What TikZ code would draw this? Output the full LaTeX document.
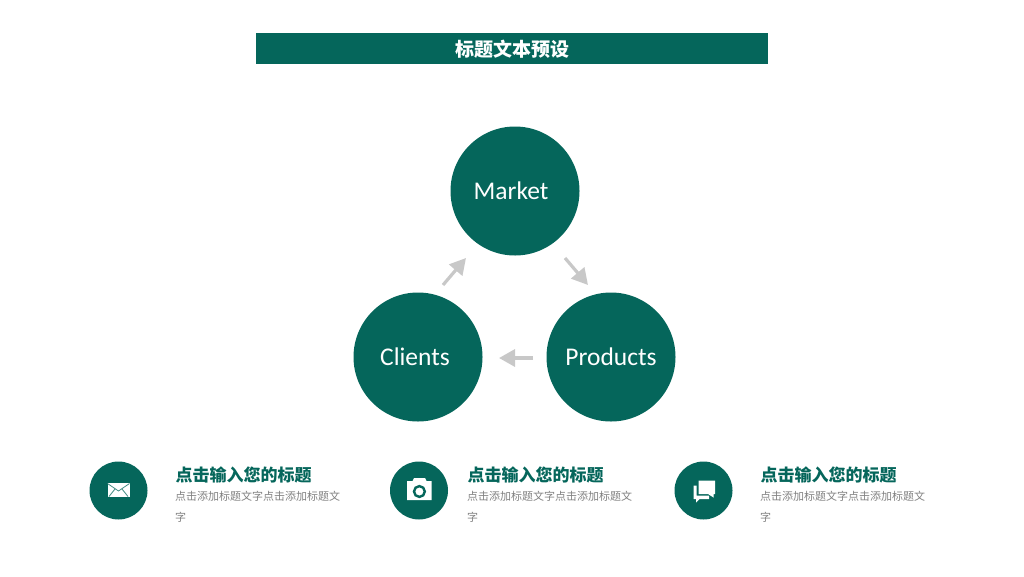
\documentclass[tikz,border=0pt]{standalone}
\usepackage{fontspec}
\setmainfont{Carlito}
\newfontfamily\cjk{Noto Sans CJK SC}
\usetikzlibrary{arrows.meta}
\definecolor{teal}{HTML}{05665B}
\definecolor{arrowgray}{HTML}{C8C8C8}
\definecolor{bodygray}{HTML}{808080}
\tikzset{
  bigcircle/.style={circle,fill=teal,minimum size=129pt,inner sep=0pt,text=white,font=\fontsize{25.5pt}{30pt}\selectfont},
  iconcircle/.style={circle,fill=teal,minimum size=58pt,inner sep=0pt},
  flow/.style={draw=arrowgray,line width=3.2pt,-{Triangle[length=16pt,width=17pt]}},
  headline/.style={anchor=west,inner sep=0pt,text=teal,font=\cjk\bfseries\fontsize{17pt}{20pt}\selectfont},
  blurb/.style={anchor=west,inner sep=0pt,text=bodygray,font=\cjk\fontsize{11pt}{13pt}\selectfont},
}
\begin{document}
\begin{tikzpicture}[x=1pt,y=-1pt]
      \useasboundingbox (0,0) rectangle (1024,576);
      \fill[teal] (256,33) rectangle (767.5,63.5);
      \node[inner sep=0pt,text=white,font=\cjk\bfseries\fontsize{19pt}{22pt}\selectfont] (title) at (512,49.5) {标题文本预设};
      \node[bigcircle] (market) at (515,191) {\hspace*{-8pt}Market};
      \node[bigcircle] (products) at (611,357) {Products};
      \node[bigcircle] (clients) at (418,357) {\hspace*{-6pt}Clients};
      \coordinate (m1) at (565,258);
      \coordinate (m2) at (588,285);
      \coordinate (p1) at (533,358);
      \coordinate (p2) at (499,358);
      \coordinate (c1) at (443,285);
      \coordinate (c2) at (466,258);
      \begin{scope}[flow]
        \draw (m1) to (m2);
        \draw (p1) to (p2);
        \draw (c1) to (c2);
      \end{scope}
      \node[iconcircle] (mail) at (118.5,490.5) {};
      \node[iconcircle] (camera) at (419,490.5) {};
      \node[iconcircle] (chat) at (703.5,490.5) {};
      % mail icon
      \fill[white] (107.5,483) rectangle (129.5,496.5);
      \draw[teal!75,line width=0.8pt] (107.5,483.5) -- (118.5,491) -- (129.5,483.5)
        (109,496.5) -- (115,489) (128,496.5) -- (122,489);
      % camera icon
      \fill[white] (407,481) -- (412.5,481) -- (414,478) -- (425,478) -- (426.5,481) -- (431.5,481)
        -- (431.5,500) -- (407,500) -- cycle;
      \draw[teal,line width=2.4pt] (419.4,491.5) circle (5.4pt);
      % chat icon
      \fill[white] (698.5,480.5) rectangle (715,494) (708,494) -- (713.5,494) -- (713.5,497.5) -- cycle;
      \fill[white] (693.5,485.5) -- (696.5,485.5) -- (696.5,495.5) -- (709,495.5) -- (709,499) -- (699.5,499)
        -- (696,502.5) -- (696,499) -- (693.5,499) -- cycle;
      \node[headline] (head1) at (175.5,475) {点击输入您的标题};
      \node[blurb] (line1a) at (175,496) {点击添加标题文字点击添加标题文};
      \node[blurb] (line1b) at (175,517.5) {字};
      \node[headline] (head2) at (467.5,475) {点击输入您的标题};
      \node[blurb] (line2a) at (467,496) {点击添加标题文字点击添加标题文};
      \node[blurb] (line2b) at (467,517.5) {字};
      \node[headline] (head3) at (760.5,475) {点击输入您的标题};
      \node[blurb] (line3a) at (760,496) {点击添加标题文字点击添加标题文};
      \node[blurb] (line3b) at (760,517.5) {字};
    \end{tikzpicture}
\end{document}
